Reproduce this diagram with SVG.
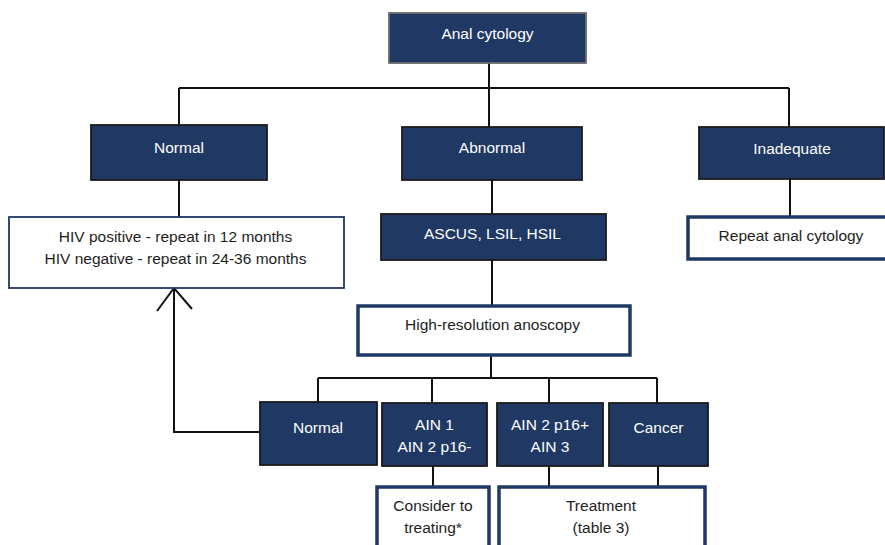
<svg xmlns="http://www.w3.org/2000/svg" width="885" height="545" viewBox="0 0 885 545">
<style>
.dark{fill:#1f3864;stroke:#1a1a1a;stroke-width:1.8}
.light{fill:#ffffff;stroke:#1f3864;stroke-width:3.5}
.thin{fill:#ffffff;stroke:#1f3864;stroke-width:1.8}
text{font-family:"Liberation Sans",Arial,sans-serif;font-size:15.5px;text-anchor:middle}
.w{fill:#ffffff}
.k{fill:#1e1e1e}
.c{fill:none;stroke:#111111;stroke-width:2}
</style>
<rect width="885" height="545" fill="#ffffff"/>
<g id="connectors">
<path class="c" d="M489,63V88M179,88H789M179,88V125M489,88V127M789,88V127"/>
<path class="c" d="M179,180V217M492,180V214M790,179V217M492,260V305"/>
<path class="c" d="M491,355V378M318,378H657M318,378V402M432,378V403M549,378V403M657,378V403"/>
<path class="c" d="M433,466V486M549,466V486M658,466V486"/>
<path class="c" d="M260,432H174V288M157,311L174,288L192,309"/>
</g>
<g id="anal-cytology"><rect class="dark" x="389" y="13" width="197" height="50" style="stroke:#6b6b6b"/><text class="w" x="487.5" y="38.5">Anal cytology</text></g>
<g id="normal"><rect class="dark" x="91" y="125" width="176" height="55"/><text class="w" x="179" y="152.5">Normal</text></g>
<g id="abnormal"><rect class="dark" x="402" y="127" width="180" height="53"/><text class="w" x="492" y="152.5">Abnormal</text></g>
<g id="inadequate"><rect class="dark" x="699" y="127" width="185" height="52"/><text class="w" x="792" y="153.5">Inadequate</text></g>
<g id="hiv"><rect class="thin" x="9" y="217" width="335" height="71"/><text class="k" x="175.5" y="241.5">HIV positive - repeat in 12 months</text><text class="k" x="175.5" y="263.5">HIV negative - repeat in 24-36 months</text></g>
<g id="ascus"><rect class="dark" x="381" y="214" width="225" height="46"/><text class="w" x="492.5" y="238.5">ASCUS, LSIL, HSIL</text></g>
<g id="repeat"><rect class="light" x="688" y="217" width="205" height="42"/><text class="k" x="791" y="240.5">Repeat anal cytology</text></g>
<g id="hra"><rect class="light" x="358" y="306" width="272" height="49"/><text class="k" x="492.5" y="329.5">High-resolution anoscopy</text></g>
<g id="normal2"><rect class="dark" x="260" y="402" width="117" height="63"/><text class="w" x="318" y="432.5">Normal</text></g>
<g id="ain1"><rect class="dark" x="382" y="403" width="105" height="63"/><text class="w" x="434.5" y="429.5">AIN 1</text><text class="w" x="434.5" y="451.5">AIN 2 p16-</text></g>
<g id="ain2"><rect class="dark" x="497" y="403" width="106" height="63"/><text class="w" x="550" y="429.5">AIN 2 p16+</text><text class="w" x="550" y="451.5">AIN 3</text></g>
<g id="cancer"><rect class="dark" x="609" y="403" width="99" height="63"/><text class="w" x="658.5" y="432.5">Cancer</text></g>
<g id="consider"><rect class="light" x="377" y="487" width="112" height="70"/><text class="k" x="433" y="510.5">Consider to</text><text class="k" x="433" y="532.5">treating*</text></g>
<g id="treatment"><rect class="light" x="499" y="487" width="206" height="70"/><text class="k" x="601" y="511">Treatment</text><text class="k" x="601" y="533">(table 3)</text></g>
</svg>
